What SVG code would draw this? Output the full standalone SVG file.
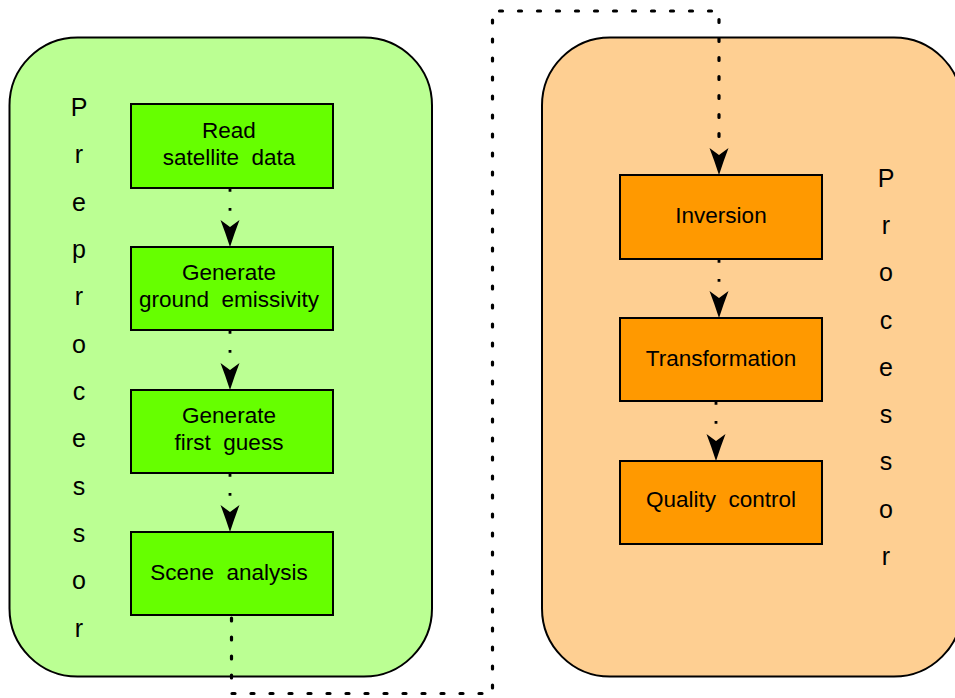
<svg xmlns="http://www.w3.org/2000/svg" width="955" height="698" viewBox="0 0 955 698">
<style>
.cont{stroke:#000;stroke-width:2}
.pre{fill:#bbff93}
.proc{fill:#fecf92}
.gbox{fill:#66ff00;stroke:#000;stroke-width:2}
.obox{fill:#ff9900;stroke:#000;stroke-width:2}
text{font-family:"Liberation Sans",Arial,sans-serif;fill:#000}
.lbl{font-size:22.5px;text-anchor:middle}
.vert{font-size:25px;text-anchor:middle}
.dot{fill:none;stroke:#000;stroke-width:2.8;stroke-dasharray:2.8 16.2}
.long{fill:none;stroke:#000;stroke-width:3.2;stroke-dasharray:3 16;stroke-linecap:round}
</style>
<defs>
<marker id="ah" markerUnits="userSpaceOnUse" markerWidth="30" markerHeight="22" viewBox="-28 -11 30 22" refX="0" refY="0" orient="auto">
<path d="M0,0 Q-14,-4.5 -27,-9.5 L-20,0 L-27,9.5 Q-14,4.5 0,0 Z" fill="#000"/>
</marker>
</defs>
<g id="preprocessor">
<rect class="cont pre" x="9.5" y="37.5" width="422.5" height="639" rx="68" ry="68"/>
<text class="vert" x="79" y="116">P</text>
<text class="vert" x="79" y="163">r</text>
<text class="vert" x="79" y="211">e</text>
<text class="vert" x="79" y="258">p</text>
<text class="vert" x="79" y="305">r</text>
<text class="vert" x="79" y="353">o</text>
<text class="vert" x="79" y="400">c</text>
<text class="vert" x="79" y="447">e</text>
<text class="vert" x="79" y="495">s</text>
<text class="vert" x="79" y="542">s</text>
<text class="vert" x="79" y="589">o</text>
<text class="vert" x="79" y="637">r</text>
</g>
<g id="processor">
<rect class="cont proc" x="542" y="37.5" width="420" height="639" rx="68" ry="68"/>
<text class="vert" x="886" y="187">P</text>
<text class="vert" x="886" y="234">r</text>
<text class="vert" x="886" y="281">o</text>
<text class="vert" x="886" y="329">c</text>
<text class="vert" x="886" y="376">e</text>
<text class="vert" x="886" y="423">s</text>
<text class="vert" x="886" y="470">s</text>
<text class="vert" x="886" y="518">o</text>
<text class="vert" x="886" y="565">r</text>
</g>
<g id="read">
<rect class="gbox" x="131" y="104" width="202" height="84"/>
<text class="lbl" x="229" y="138">Read</text>
<text class="lbl" x="229" y="165" xml:space="preserve">satellite  data</text>
</g>
<g id="emissivity">
<rect class="gbox" x="131" y="247" width="202" height="83"/>
<text class="lbl" x="229" y="280">Generate</text>
<text class="lbl" x="229" y="307" xml:space="preserve">ground  emissivity</text>
</g>
<g id="firstguess">
<rect class="gbox" x="131" y="390" width="202" height="83"/>
<text class="lbl" x="229" y="423">Generate</text>
<text class="lbl" x="229" y="450" xml:space="preserve">first  guess</text>
</g>
<g id="scene">
<rect class="gbox" x="131" y="532" width="202" height="83"/>
<text class="lbl" x="229" y="580" xml:space="preserve">Scene  analysis</text>
</g>
<g id="inversion">
<rect class="obox" x="620" y="175" width="202" height="84"/>
<text class="lbl" x="721" y="223">Inversion</text>
</g>
<g id="transformation">
<rect class="obox" x="620" y="318" width="202" height="83"/>
<text class="lbl" x="721" y="366">Transformation</text>
</g>
<g id="quality">
<rect class="obox" x="620" y="461" width="202" height="83"/>
<text class="lbl" x="721" y="507" xml:space="preserve">Quality  control</text>
</g>
<g id="connectors">
<path class="dot" d="M230,189 V222"/>
<path d="M230,222 V247" fill="none" stroke="none" marker-end="url(#ah)"/>
<path class="dot" d="M230,331 V365"/>
<path d="M230,365 V390" fill="none" stroke="none" marker-end="url(#ah)"/>
<path class="dot" d="M230,474 V507"/>
<path d="M230,507 V532" fill="none" stroke="none" marker-end="url(#ah)"/>
<path class="dot" d="M719,260 V293"/>
<path d="M719,293 V318" fill="none" stroke="none" marker-end="url(#ah)"/>
<path class="dot" d="M716,402 V436"/>
<path d="M716,436 V461" fill="none" stroke="none" marker-end="url(#ah)"/>
<path class="long" d="M231.5,618 V693.5 H492.5 V11 H719 V148"/>
<path d="M719,148 V175" stroke="none" fill="none" marker-end="url(#ah)"/>
</g>
</svg>
